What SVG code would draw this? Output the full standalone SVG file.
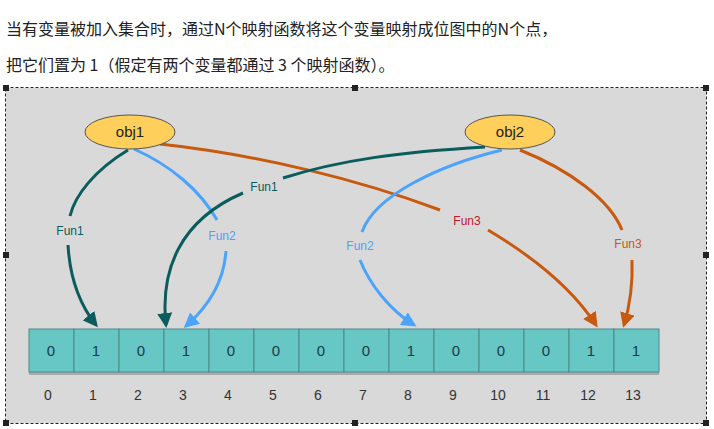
<svg xmlns="http://www.w3.org/2000/svg" width="714" height="429" viewBox="0 0 714 429">
<defs>
<marker id="mt" viewBox="0 0 10 10" refX="8" refY="5" markerWidth="5" markerHeight="5" orient="auto"><path d="M0,0 L10,5 L0,10 z" fill="#0b5c5c"/></marker>
<marker id="mb" viewBox="0 0 10 10" refX="8" refY="5" markerWidth="5" markerHeight="5" orient="auto"><path d="M0,0 L10,5 L0,10 z" fill="#4ba3fb"/></marker>
<marker id="mo" viewBox="0 0 10 10" refX="8" refY="5" markerWidth="5" markerHeight="5" orient="auto"><path d="M0,0 L10,5 L0,10 z" fill="#c85a10"/></marker>
</defs>
<style>
.hd{font-family:"Noto Sans CJK SC","Liberation Sans",sans-serif;font-size:16px;fill:#222}
.cell{fill:#66c7c4;stroke:#4c8a88;stroke-width:1}
.v{font-family:"Liberation Sans",sans-serif;font-size:15px;fill:#1c3a4a;text-anchor:middle}
.ix{font-family:"Liberation Sans",sans-serif;font-size:14px;fill:#333;text-anchor:middle}
.lb{font-family:"Liberation Sans",sans-serif;font-size:12px;text-anchor:middle}
.t{fill:none;stroke:#0b5c5c;stroke-width:3}
.b{fill:none;stroke:#4ba3fb;stroke-width:3}
.o{fill:none;stroke:#c85a10;stroke-width:3}
.h{fill:#222}
</style>
<rect width="714" height="429" fill="#fff"/>
<text class="hd" x="6" y="35">当有变量被加入集合时，通过N个映射函数将这个变量映射成位图中的N个点，</text>
<text class="hd" x="6" y="71">把它们置为 1（假定有两个变量都通过 3 个映射函数）。</text>
<rect x="6" y="88" width="700" height="335" fill="#d9d9d9"/>
<rect x="5.5" y="87.5" width="701" height="336" fill="none" stroke="#222" stroke-dasharray="3,2"/>
<g class="h"><rect x="3" y="85" width="6" height="6"/><rect x="352" y="85" width="6" height="6"/><rect x="703" y="85" width="6" height="6"/><rect x="3" y="252" width="6" height="6"/><rect x="703" y="252" width="6" height="6"/><rect x="3" y="420" width="6" height="6"/><rect x="352" y="420" width="6" height="6"/><rect x="703" y="420" width="6" height="6"/></g>
<g id="connectors">
<path class="t" d="M128,150 C95,170 75,195 70,216"/>
<path class="t" d="M68,245 C70,280 80,305 96,325" marker-end="url(#mt)"/>
<path class="b" d="M134,149 C170,165 200,190 217,220"/>
<path class="b" d="M226,251 C224,280 210,305 186,326" marker-end="url(#mb)"/>
<path class="o" d="M160,144 C260,155 360,180 440,210"/>
<path class="o" d="M488,230 C530,255 570,285 596,325" marker-end="url(#mo)"/>
<path class="t" d="M485,147 C400,152 340,160 283,178"/>
<path class="t" d="M243,193 C180,220 160,270 166,325" marker-end="url(#mt)"/>
<path class="b" d="M502,150 C440,165 375,195 362,232"/>
<path class="b" d="M360,260 C370,285 390,310 414,325" marker-end="url(#mb)"/>
<path class="o" d="M520,150 C570,170 610,200 622,230"/>
<path class="o" d="M632,260 C633,285 630,305 624,325" marker-end="url(#mo)"/>
</g>
<g class="lb">
<text x="70" y="235" fill="#0b5c5c">Fun1</text>
<text x="222" y="240" fill="#4ba3fb">Fun2</text>
<text x="264" y="191" fill="#0b5c5c">Fun1</text>
<text x="360" y="250" fill="#4ba3fb">Fun2</text>
<text x="467" y="225" fill="#c0182a">Fun3</text>
<text x="628" y="248" fill="#c85a10">Fun3</text>
</g>
<g id="obj1"><ellipse cx="130" cy="132" rx="45" ry="17" fill="#fecf5a" stroke="#555"/><text x="130" y="137" class="v" style="fill:#222">obj1</text></g>
<g id="obj2"><ellipse cx="510" cy="132" rx="45" ry="17" fill="#fecf5a" stroke="#555"/><text x="510" y="137" class="v" style="fill:#222">obj2</text></g>
<g id="bitmap">
<rect x="29" y="372" width="630" height="3" fill="#aaa"/>
<rect class="cell" x="29" y="329" width="45" height="43"/><rect class="cell" x="74" y="329" width="45" height="43"/><rect class="cell" x="119" y="329" width="45" height="43"/><rect class="cell" x="164" y="329" width="45" height="43"/><rect class="cell" x="209" y="329" width="45" height="43"/><rect class="cell" x="254" y="329" width="45" height="43"/><rect class="cell" x="299" y="329" width="45" height="43"/><rect class="cell" x="344" y="329" width="45" height="43"/><rect class="cell" x="389" y="329" width="45" height="43"/><rect class="cell" x="434" y="329" width="45" height="43"/><rect class="cell" x="479" y="329" width="45" height="43"/><rect class="cell" x="524" y="329" width="45" height="43"/><rect class="cell" x="569" y="329" width="45" height="43"/><rect class="cell" x="614" y="329" width="45" height="43"/>
<text class="v" x="51" y="356">0</text><text class="v" x="96" y="356">1</text><text class="v" x="141" y="356">0</text><text class="v" x="186" y="356">1</text><text class="v" x="231" y="356">0</text><text class="v" x="276" y="356">0</text><text class="v" x="321" y="356">0</text><text class="v" x="366" y="356">0</text><text class="v" x="411" y="356">1</text><text class="v" x="456" y="356">0</text><text class="v" x="501" y="356">0</text><text class="v" x="546" y="356">0</text><text class="v" x="591" y="356">1</text><text class="v" x="636" y="356">1</text>
<text class="ix" x="48" y="400">0</text><text class="ix" x="93" y="400">1</text><text class="ix" x="138" y="400">2</text><text class="ix" x="183" y="400">3</text><text class="ix" x="228" y="400">4</text><text class="ix" x="273" y="400">5</text><text class="ix" x="318" y="400">6</text><text class="ix" x="363" y="400">7</text><text class="ix" x="408" y="400">8</text><text class="ix" x="453" y="400">9</text><text class="ix" x="498" y="400">10</text><text class="ix" x="543" y="400">11</text><text class="ix" x="588" y="400">12</text><text class="ix" x="633" y="400">13</text>
</g>
</svg>
